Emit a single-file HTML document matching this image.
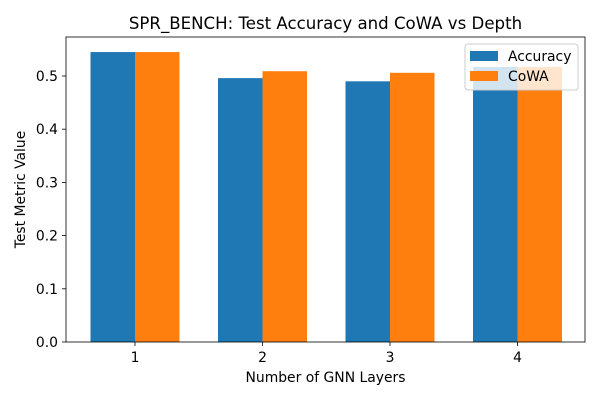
<!DOCTYPE html>
<html><head><meta charset="utf-8"><style>
body{margin:0;background:#fff;}
svg{font-family:"DejaVu Sans","Liberation Sans",sans-serif;}
</style></head><body>
<svg id="c" width="600" height="400"></svg>
<script>
const categories=["1","2","3","4"];
const accuracy=[0.545,0.496,0.490,0.517];
const cowa=[0.545,0.509,0.506,0.517];
const yTicks=[0.0,0.1,0.2,0.3,0.4,0.5];
const NS="http://www.w3.org/2000/svg";
const svg=document.getElementById('c');
const L=66,R=585,T=37,B=342;
const y=v=>B-v*532;
const gx=i=>135+i*127.5;
const bw=44.5;
function mk(tag,attrs,txt){const e=document.createElementNS(NS,tag);for(const k in attrs)e.setAttribute(k,attrs[k]);if(txt!=null)e.textContent=txt;svg.appendChild(e);return e;}
categories.forEach((c,i)=>{
 let a=mk('rect',{x:gx(i)-bw,y:y(accuracy[i]),width:bw,height:B-y(accuracy[i]),fill:'#1f77b4'});
 
 
 let b=mk('rect',{x:gx(i),y:y(cowa[i]),width:bw,height:B-y(cowa[i]),fill:'#ff7f0e'});
 
 
 mk('line',{x1:gx(i),x2:gx(i),y1:B,y2:B+4,stroke:'#000','stroke-width':0.8});
 let t=mk('text',{x:gx(i),y:B+20,'font-size':13.9,'text-anchor':'middle'},c);
 
 
});
yTicks.forEach(v=>{
 mk('line',{x1:L-4,x2:L,y1:y(v),y2:y(v),stroke:'#000','stroke-width':0.8});
 let t=mk('text',{x:L-8,y:y(v)+5,'font-size':13.9,'text-anchor':'end'},v.toFixed(1));
 
 
});
let fr=mk('rect',{x:L,y:T,width:R-L,height:B-T,fill:'none',stroke:'#000','stroke-width':0.8});


let ti=mk('text',{x:(L+R)/2,y:29,'font-size':16.6,'text-anchor':'middle'},'SPR_BENCH: Test Accuracy and CoWA vs Depth');


let xt=mk('text',{x:(L+R)/2,y:382,'font-size':13.9,'text-anchor':'middle'},'Number of GNN Layers');


let yt=mk('text',{x:25,y:(T+B)/2,'font-size':13.9,'text-anchor':'middle',transform:'rotate(-90 25 '+((T+B)/2)+')'},'Test Metric Value');


let lg=mk('rect',{x:465,y:44,width:113,height:46,rx:3,fill:'rgba(255,255,255,0.8)',stroke:'#ccc','stroke-width':1});


mk('rect',{x:470,y:51,width:28,height:10,fill:'#1f77b4'});
let l1=mk('text',{x:508,y:61,'font-size':13.9},'Accuracy');


mk('rect',{x:470,y:71,width:28,height:10,fill:'#ff7f0e'});
let l2=mk('text',{x:508,y:81,'font-size':13.9},'CoWA');


</script>
</body></html>
